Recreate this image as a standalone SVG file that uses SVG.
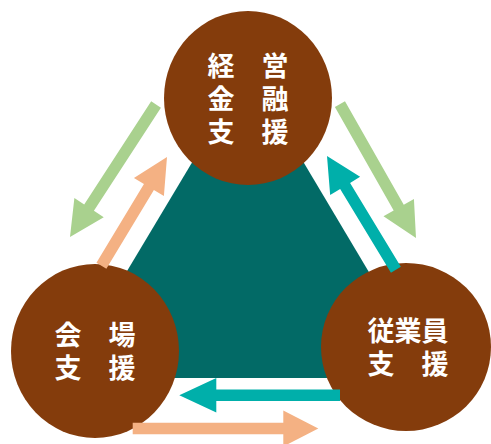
<svg xmlns="http://www.w3.org/2000/svg" width="491" height="444" viewBox="0 0 491 444">
<style>
.node{fill:#843c0c}
.lbl{fill:#ffffff;font-family:"Noto Sans CJK JP","Noto Sans CJK SC",sans-serif;font-weight:bold;font-size:27px;text-anchor:middle}
.green{fill:#a9d18e}
.peach{fill:#f4b183}
.teal{fill:#00afaa}
</style>
<rect width="491" height="444" fill="#ffffff"/>
<polygon id="core" points="248,69 63,378 432,378" fill="#026a66"/>
<g id="node-top">
<ellipse class="node" cx="248" cy="98" rx="84" ry="87"/>
<text class="lbl" x="248" y="76">経　営</text>
<text class="lbl" x="248" y="109">金　融</text>
<text class="lbl" x="248" y="142">支　援</text>
</g>
<g id="node-left">
<ellipse class="node" cx="95" cy="351" rx="84" ry="87"/>
<text class="lbl" x="95" y="345">会　場</text>
<text class="lbl" x="95" y="378">支　援</text>
</g>
<g id="node-right">
<ellipse class="node" cx="406" cy="347" rx="85" ry="84"/>
<text class="lbl" x="408" y="341">従業員</text>
<text class="lbl" x="408" y="374">支　援</text>
</g>
<g id="connectors">
<polygon class="green" transform="translate(70,237) rotate(123)" points="-158,-5.8 -35,-5.8 -35,-17.5 0,0 -35,17.5 -35,5.8 -158,5.8"/>
<polygon class="peach" transform="translate(167,157) rotate(-58.9)" points="-127,-5.8 -35,-5.8 -35,-17.5 0,0 -35,17.5 -35,5.8 -127,5.8"/>
<polygon class="green" transform="translate(416,238) rotate(60.4)" points="-154,-5.8 -35,-5.8 -35,-17.5 0,0 -35,17.5 -35,5.8 -154,5.8"/>
<polygon class="teal" transform="translate(327,156) rotate(-121.2)" points="-133,-5.8 -35,-5.8 -35,-17.5 0,0 -35,17.5 -35,5.8 -133,5.8"/>
<polygon class="teal" transform="translate(179.3,395.2) rotate(180)" points="-160.7,-5.8 -37,-5.8 -37,-17.3 0,0 -37,17.3 -37,5.8 -160.7,5.8"/>
<polygon class="peach" transform="translate(318.3,428.5) rotate(0)" points="-185.6,-5.7 -35,-5.7 -35,-18 0,0 -35,18 -35,5.7 -185.6,5.7"/>
</g>
</svg>
